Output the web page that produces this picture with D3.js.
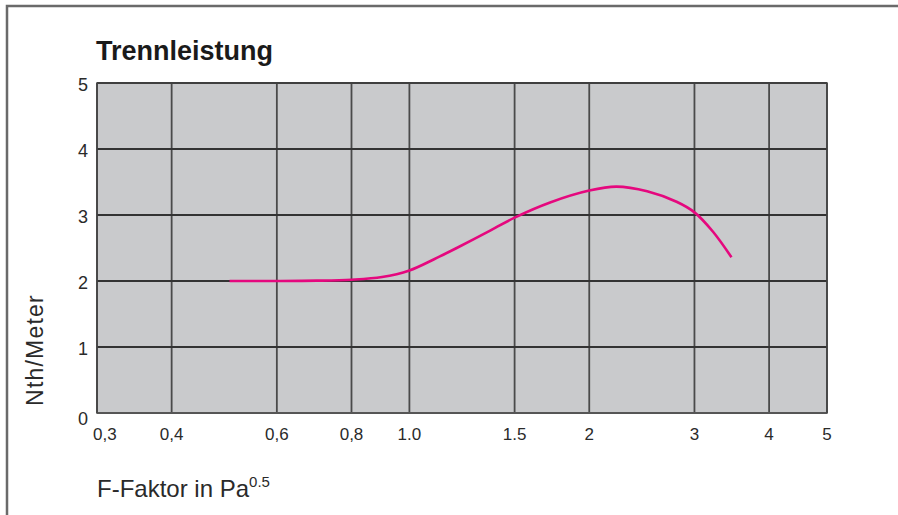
<!DOCTYPE html>
<html>
<head>
<meta charset="utf-8">
<script src="https://cdn.jsdelivr.net/npm/d3@7"></script>
<style>
  body { margin: 0; background: #fff; }
  text { font-family: "Liberation Sans", Arial, sans-serif; fill: #2a2a2a; }
</style>
</head>
<body>
<div id="chart"></div>
<script>
// F-Faktor values (log axis) and separation efficiency (Nth/Meter)
var fFaktor = [0.5, 0.6, 0.7, 0.8, 0.9, 1.0, 1.1, 1.2, 1.35, 1.5, 1.72, 2.0, 2.22, 2.5, 2.8, 3.0, 3.22, 3.46];
var trennleistung = [2.0, 2.0, 2.005, 2.02, 2.06, 2.16, 2.33, 2.5, 2.74, 2.96, 3.19, 3.37, 3.43, 3.36, 3.2, 3.04, 2.75, 2.36];

var xTicks = [0.3, 0.4, 0.6, 0.8, 1.0, 1.5, 2, 3, 4, 5];
var xTickLabels = ["0,3", "0,4", "0,6", "0,8", "1.0", "1.5", "2", "3", "4", "5"];
var yTicks = [0, 1, 2, 3, 4, 5];

var width = 898, height = 515;
var margin = { top: 83, right: 71, bottom: 102, left: 97 };
var w = width - margin.left - margin.right,
    h = height - margin.top - margin.bottom;

var svg = d3.select("#chart").append("svg")
    .attr("width", width)
    .attr("height", height);

// outer frame (top and left only)
svg.append("path")
    .attr("d", "M7,515 L7,6 L898,6")
    .attr("fill", "none")
    .attr("stroke", "#6a6a6a")
    .attr("stroke-width", 2.5);

var x = d3.scaleLog().domain([0.3, 5]).range([0, w]);
var y = d3.scaleLinear().domain([0, 5]).range([h, 0]);

var g = svg.append("g")
    .attr("transform", "translate(" + margin.left + "," + margin.top + ")");

g.append("rect")
    .attr("width", w)
    .attr("height", h)
    .attr("fill", "#c9cacc");

// grid
g.selectAll("line.v").data(xTicks).enter().append("line")
    .attr("class", "v")
    .attr("x1", function(d) { return x(d); })
    .attr("x2", function(d) { return x(d); })
    .attr("y1", 0).attr("y2", h)
    .attr("stroke", "#4a4a4a")
    .attr("stroke-width", 1.8);

g.selectAll("line.h").data(yTicks).enter().append("line")
    .attr("class", "h")
    .attr("x1", 0).attr("x2", w)
    .attr("y1", function(d) { return y(d); })
    .attr("y2", function(d) { return y(d); })
    .attr("stroke", function(d) { return d == 0 ? "#8a8a8a" : "#333"; })
    .attr("stroke-width", 1.8);

g.append("rect")
    .attr("width", w)
    .attr("height", h)
    .attr("fill", "none")
    .attr("stroke", "#444")
    .attr("stroke-width", 1.5);

// x tick labels
g.selectAll("text.xt").data(xTicks).enter().append("text")
    .attr("class", "xt")
    .attr("x", function(d, i) { return i == 0 ? x(d) - 4 : x(d); })
    .attr("y", h + 27)
    .attr("text-anchor", function(d, i) { return i == 0 ? "start" : "middle"; })
    .style("font-size", "17px")
    .text(function(d, i) { return xTickLabels[i]; });

// y tick labels
g.selectAll("text.yt").data(yTicks).enter().append("text")
    .attr("class", "yt")
    .attr("x", -9)
    .attr("y", function(d) { return y(d) + (d == 0 ? 12 : 8); })
    .attr("text-anchor", "end")
    .style("font-size", "18px")
    .text(function(d) { return d; });

// curve
var line = d3.line()
    .x(function(d, i) { return x(fFaktor[i]); })
    .y(function(d) { return y(d); })
    .curve(d3.curveCatmullRom.alpha(0.5));

g.append("path")
    .datum(trennleistung)
    .attr("d", line)
    .attr("fill", "none")
    .attr("stroke", "#e5087e")
    .attr("stroke-width", 2.6);

// title
svg.append("text")
    .attr("x", 96)
    .attr("y", 60)
    .style("font-size", "27px")
    .style("font-weight", "bold")
    .style("fill", "#1a1a1a")
    .text("Trennleistung");

// axis titles
svg.append("text")
    .attr("transform", "translate(43,350) rotate(-90)")
    .attr("text-anchor", "middle")
    .style("font-size", "23px")
    .style("letter-spacing", "1.2px")
    .text("Nth/Meter");

var xt = svg.append("text")
    .attr("x", 97)
    .attr("y", 497)
    .style("font-size", "24px");
xt.append("tspan").text("F-Faktor in Pa");
xt.append("tspan")
    .attr("dy", -10)
    .style("font-size", "15px")
    .text("0.5");
</script>
</body>
</html>
